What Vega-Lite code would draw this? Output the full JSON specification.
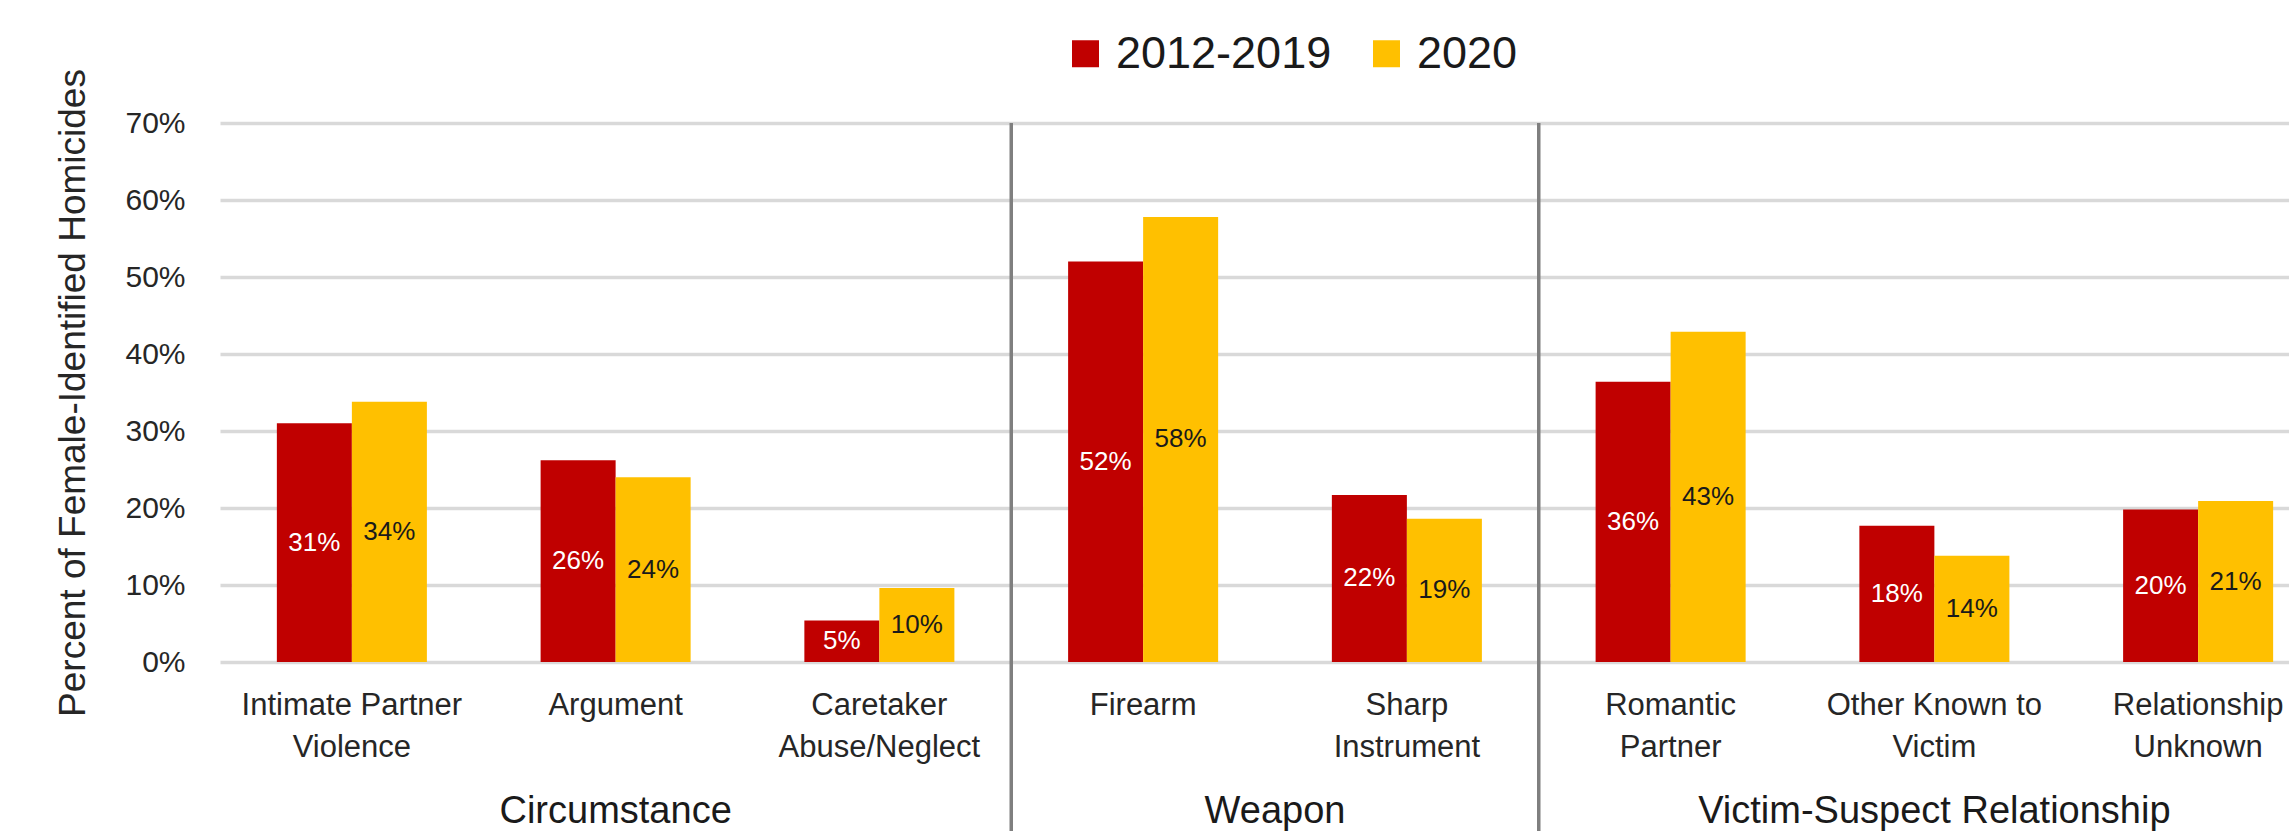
{
  "$schema": "https://vega.github.io/schema/vega-lite/v6.json",
  "autosize": {"type": "none"},
  "padding": {"left": 220, "top": 123, "right": 0, "bottom": 169},
  "width": 2069,
  "height": 539,
  "config": {
    "font": "Liberation Sans",
    "view": {"stroke": null},
    "axis": {"labelColor": "#262626", "titleColor": "#262626"},
    "text": {"font": "Liberation Sans"}
  },
  "datasets": {
    "bars": [
      {"cat": "Intimate Partner Violence", "period": "2012-2019", "value": 0.310},
      {"cat": "Intimate Partner Violence", "period": "2020", "value": 0.338},
      {"cat": "Argument", "period": "2012-2019", "value": 0.262},
      {"cat": "Argument", "period": "2020", "value": 0.240},
      {"cat": "Caretaker Abuse/Neglect", "period": "2012-2019", "value": 0.054},
      {"cat": "Caretaker Abuse/Neglect", "period": "2020", "value": 0.096},
      {"cat": "Firearm", "period": "2012-2019", "value": 0.520},
      {"cat": "Firearm", "period": "2020", "value": 0.578},
      {"cat": "Sharp Instrument", "period": "2012-2019", "value": 0.217},
      {"cat": "Sharp Instrument", "period": "2020", "value": 0.186},
      {"cat": "Romantic Partner", "period": "2012-2019", "value": 0.364},
      {"cat": "Romantic Partner", "period": "2020", "value": 0.429},
      {"cat": "Other Known to Victim", "period": "2012-2019", "value": 0.177},
      {"cat": "Other Known to Victim", "period": "2020", "value": 0.138},
      {"cat": "Relationship Unknown", "period": "2012-2019", "value": 0.198},
      {"cat": "Relationship Unknown", "period": "2020", "value": 0.209}
    ],
    "dividers": [
      {"cat": "Firearm"},
      {"cat": "Romantic Partner"}
    ],
    "groupsCentered": [
      {"group": "Circumstance", "cat": "Argument"},
      {"group": "Victim-Suspect Relationship", "cat": "Other Known to Victim"}
    ],
    "groupsEdge": [
      {"group": "Weapon", "cat": "Sharp Instrument"}
    ]
  },
  "layer": [
    {
      "layer": [
        {
          "data": {"name": "bars"},
          "mark": {"type": "bar"},
          "encoding": {
            "x": {
              "field": "cat",
              "type": "nominal",
              "scale": {
                "domain": ["Intimate Partner Violence", "Argument", "Caretaker Abuse/Neglect", "Firearm", "Sharp Instrument", "Romantic Partner", "Other Known to Victim", "Relationship Unknown"],
                "range": [0, 2110],
                "paddingInner": 0,
                "paddingOuter": 0
              },
              "axis": {
                "title": null,
                "domain": false,
                "ticks": false,
                "tickSize": 0,
                "labelAngle": 0,
                "labelFontSize": 31,
                "labelPadding": 28,
                "labelLineHeight": 42,
                "labelLimit": 0,
                "labelOverlap": false,
                "labelBaseline": "top",
                "labelExpr": "datum.value == 'Intimate Partner Violence' ? ['Intimate Partner', 'Violence'] : datum.value == 'Caretaker Abuse/Neglect' ? ['Caretaker', 'Abuse/Neglect'] : datum.value == 'Sharp Instrument' ? ['Sharp', 'Instrument'] : datum.value == 'Romantic Partner' ? ['Romantic', 'Partner'] : datum.value == 'Other Known to Victim' ? ['Other Known to', 'Victim'] : datum.value == 'Relationship Unknown' ? ['Relationship', 'Unknown'] : datum.label"
              }
            },
            "xOffset": {
              "field": "period",
              "type": "nominal",
              "scale": {"paddingInner": 0, "paddingOuter": 0.758}
            },
            "y": {
              "field": "value",
              "type": "quantitative",
              "scale": {"domain": [0, 0.7], "nice": false, "zero": true},
              "axis": {
                "title": "Percent of Female-Identified Homicides",
                "titleFontSize": 37,
                "titleFontWeight": "normal",
                "titlePadding": 32,
                "values": [0, 0.1, 0.2, 0.3, 0.4, 0.5, 0.6, 0.7],
                "format": ".0%",
                "labelFontSize": 30,
                "labelPadding": 35,
                "domain": false,
                "ticks": false,
                "grid": true,
                "gridColor": "#d9d9d9",
                "gridWidth": 3.5
              }
            },
            "color": {
              "field": "period",
              "type": "nominal",
              "scale": {"domain": ["2012-2019", "2020"], "range": ["#C00000", "#FFC000"]},
              "legend": {
                "title": null,
                "orient": "none",
                "direction": "horizontal",
                "legendX": 843,
                "legendY": -92,
                "symbolType": "square",
                "symbolSize": 729,
                "symbolStrokeWidth": 0,
                "symbolOpacity": 1,
                "labelFontSize": 45,
                "labelLimit": 0,
                "labelColor": "#1a1a1a",
                "labelOffset": 8,
                "columnPadding": 32,
                "padding": 0
              }
            }
          }
        },
        {
          "data": {"name": "dividers"},
          "mark": {"type": "rule", "color": "#7f7f7f", "strokeWidth": 3.5},
          "encoding": {
            "x": {"field": "cat", "type": "nominal", "bandPosition": 0},
            "y": {"datum": 0.7, "type": "quantitative"},
            "y2": {"datum": -0.4}
          }
        },
        {
          "data": {"name": "groupsCentered"},
          "mark": {"type": "text", "fontSize": 38, "color": "#1a1a1a", "baseline": "alphabetic", "dy": 161},
          "encoding": {
            "x": {"field": "cat", "type": "nominal", "bandPosition": 0.5},
            "y": {"datum": 0, "type": "quantitative"},
            "text": {"field": "group"}
          }
        },
        {
          "data": {"name": "groupsEdge"},
          "mark": {"type": "text", "fontSize": 38, "color": "#1a1a1a", "baseline": "alphabetic", "dy": 161},
          "encoding": {
            "x": {"field": "cat", "type": "nominal", "bandPosition": 0},
            "y": {"datum": 0, "type": "quantitative"},
            "text": {"field": "group"}
          }
        }
      ]
    },
    {
      "data": {"name": "bars"},
      "mark": {"type": "text", "fontSize": 26, "baseline": "middle", "align": "center"},
      "encoding": {
        "x": {"field": "cat", "type": "nominal"},
        "xOffset": {"field": "period", "type": "nominal"},
        "y": {
          "field": "value",
          "type": "quantitative",
          "scale": {"domain": [0, 1.4], "nice": false},
          "axis": null
        },
        "text": {"field": "value", "type": "quantitative", "format": ".0%"},
        "color": {
          "condition": {"test": "datum.period == '2012-2019'", "value": "#ffffff"},
          "value": "#1a1a1a"
        }
      }
    }
  ],
  "resolve": {"scale": {"y": "independent"}}
}
